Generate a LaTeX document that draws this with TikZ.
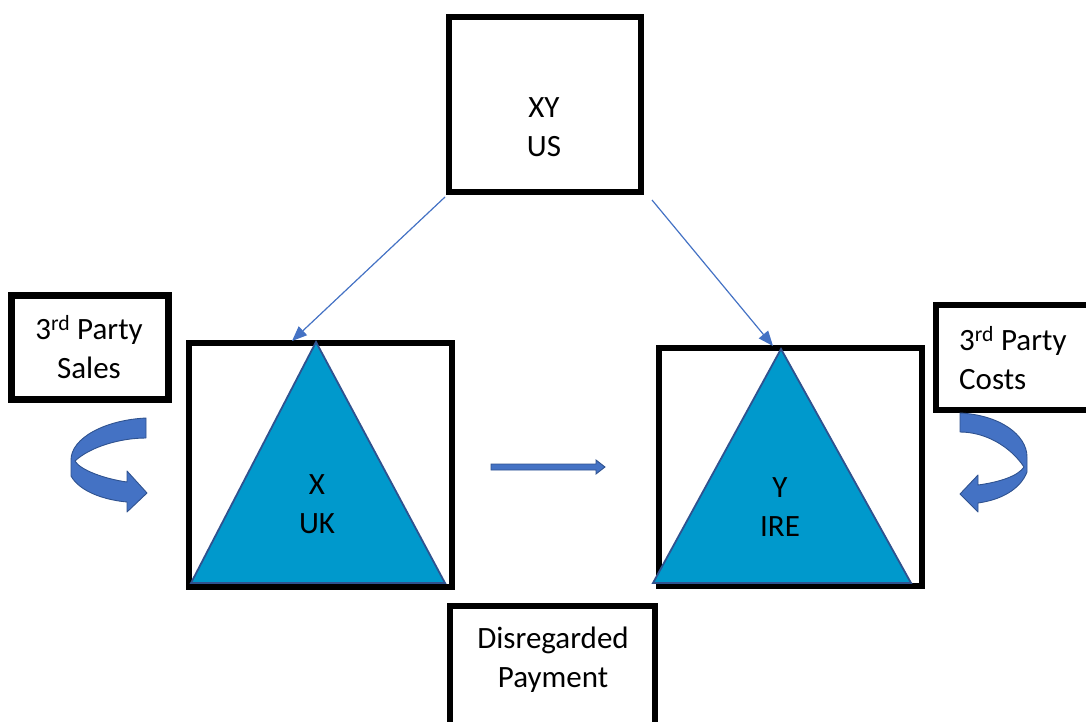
\documentclass[tikz,border=0pt]{standalone}
\usepackage{fontspec}
\setmainfont{Carlito}
\usetikzlibrary{arrows.meta}
\definecolor{arrowblue}{HTML}{4472C4}
\definecolor{edgeblue}{HTML}{2F528F}
\definecolor{trifill}{HTML}{0099CC}
\begin{document}
\begin{tikzpicture}[x=1pt,y=-1pt,
  box/.style={draw=black,line width=6.5pt,fill=white,inner sep=0pt,outer sep=0pt},
  lbl/.style={font=\fontsize{31}{39}\selectfont,align=center,inner sep=0pt},
  link/.style={draw=arrowblue,line width=1.2pt,-{Triangle[length=15pt,width=12pt]}},
  tri/.style={fill=trifill,draw=edgeblue,line width=1.8pt,line join=miter},
  curvearrow/.style={fill=arrowblue,draw=edgeblue,line width=0.9pt,line join=round},
]
\useasboundingbox (0,0) rectangle (1086,722);

% boxes
\node[box,minimum width=192pt,minimum height=175pt] (xy) at (545,104.5) {};
\node[box,minimum width=157pt,minimum height=104pt] (sales) at (90,347.5) {};
\node[box,minimum width=263pt,minimum height=244pt] (xbox) at (320.5,465) {};
\node[box,minimum width=263pt,minimum height=238pt] (ybox) at (790.5,467) {};
\node[box,minimum width=159pt,minimum height=105pt] (costs) at (1015.5,357.5) {};
\node[box,minimum width=205pt,minimum height=134pt] (disr) at (552.5,673) {};

% triangles
\draw[tri] (316,342) -- (445,583) -- (191,583) -- cycle;
\draw[tri] (781,349) -- (911,583) -- (653,583) -- cycle;

% texts
\node[lbl] (xyt) at (544,127) {XY\\US};
\node[lbl] (salest) at (89,347) {3\textsuperscript{rd} Party\\Sales};
\node[lbl,align=left,anchor=west] (costst) at (959,358) {3\textsuperscript{rd} Party\\Costs};
\node[lbl] (xt) at (317,504) {X\\UK};
\node[lbl] (yt) at (780,507) {Y\\IRE};
\node[lbl] (disrt) at (553,660) {Disregarded\\Payment};

% connectors
\coordinate (xtip) at (292,341);
\coordinate (ytip) at (773,346);
\draw[link] ([shift={(-4,5)}]xy.south west) -- (xtip);
\draw[link] ([shift={(11,8)}]xy.south east) -- (ytip);

% horizontal block arrow
\draw[fill=arrowblue,draw=edgeblue,line width=0.9pt,line join=miter]
  (491,464) -- (596,464) -- (596,460) -- (605,467) -- (596,474) -- (596,470) -- (491,470) -- cycle;

% left curved arrow
\draw[curvearrow] (146,418) .. controls (105,420) and (71,438) .. (71,460)
  -- (71,476) .. controls (80,492) and (105,500) .. (127,502)
  -- (127,512) -- (147,493) -- (127,471) -- (127,482)
  .. controls (105,479) and (80,470) .. (75,461)
  .. controls (90,447) and (120,438) .. (146,438) -- cycle;

% right curved arrow
\draw[curvearrow] (960,413) .. controls (1000,415) and (1027,435) .. (1027,457)
  -- (1027,472) .. controls (1020,490) and (1000,500) .. (978,503)
  -- (978,512) -- (960,494) -- (978,475) -- (978,485)
  .. controls (1000,482) and (1018,476) .. (1024,467)
  .. controls (1010,446) and (985,432) .. (960,432) -- cycle;
\end{tikzpicture}
\end{document}
